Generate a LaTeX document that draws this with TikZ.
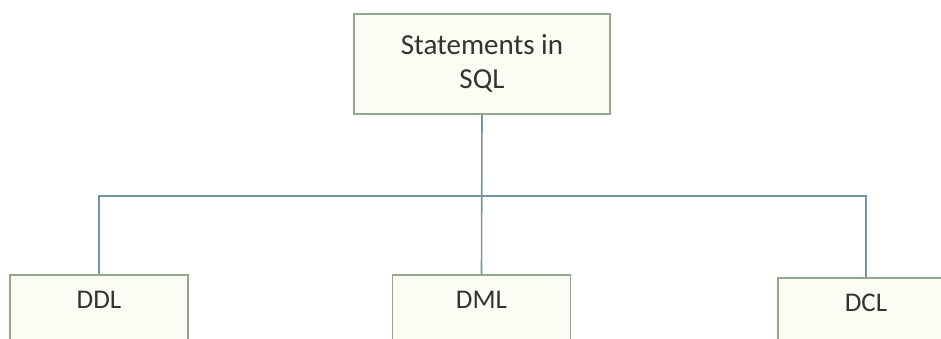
\documentclass[tikz,border=0pt]{standalone}
\usepackage{fontspec}
\setmainfont{Carlito}
\definecolor{boxline}{RGB}{150,166,138}
\definecolor{boxfill}{RGB}{251,253,244}
\definecolor{wire}{RGB}{118,148,168}
\begin{document}
\begin{tikzpicture}[x=1pt,y=-1pt,
  box/.style={draw=boxline,fill=boxfill,line width=1.6pt,inner sep=0pt,
    text=black!80},
  leaf/.style={box,anchor=north,minimum width=178pt,text height=34pt,text depth=46pt,
    font=\fontsize{27}{32}\selectfont},
  wireline/.style={draw=wire,line width=1.6pt}]
\useasboundingbox (0,0) rectangle (941,339);
\clip (0,0) rectangle (941,339);
\fill[white] (0,0) rectangle (941,339);
\node[box,anchor=north,minimum width=256pt,minimum height=100pt,align=center,
  font=\fontsize{29}{34}\selectfont] (top) at (482,13) {Statements in\\SQL};
\node[leaf] (ddl) at (99,274) {DDL};
\node[leaf] (dml) at (481.5,274) {DML};
\node[leaf,minimum width=176pt] (dcl) at (866,277) {DCL};
\coordinate (bus) at (482,196);
\draw[wireline] (top.south) -- (dml.north);
\draw[wireline] (ddl.north) |- (bus) -| (dcl.north);
\end{tikzpicture}
\end{document}
